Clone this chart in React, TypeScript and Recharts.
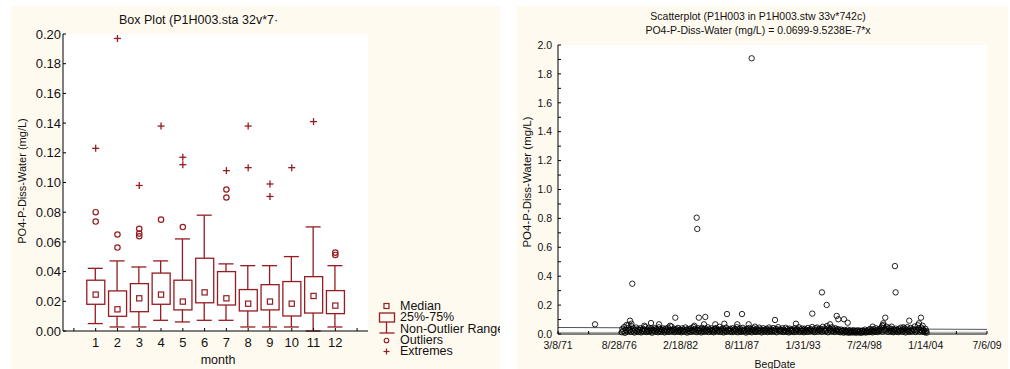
import React from 'react'
import { ComposedChart, Bar, Scatter, XAxis, YAxis, CartesianGrid, ReferenceLine } from 'recharts'

const FONT = '"Liberation Sans", Arial, sans-serif'
const RED = '#961c20'
const CREAM = '#fffaf0'

// box plot, PO4-P by month
const months = [1, 2, 3, 4, 5, 6, 7, 8, 9, 10, 11, 12]
const whiskerLow = [0.005, 0.0027, 0.0027, 0.0072, 0.0061, 0.0072, 0.0072, 0.0027, 0.0027, 0.0027, 0.0, 0.0027]
const q1 = [0.018, 0.0099, 0.013, 0.018, 0.0142, 0.019, 0.0175, 0.0135, 0.0142, 0.0101, 0.0121, 0.0117]
const medians = [0.0245, 0.0146, 0.022, 0.0245, 0.0198, 0.026, 0.022, 0.0184, 0.0198, 0.0184, 0.0236, 0.0171]
const q3 = [0.0342, 0.027, 0.0319, 0.039, 0.0342, 0.049, 0.04, 0.0279, 0.0312, 0.0333, 0.0366, 0.0272]
const whiskerHigh = [0.0422, 0.0472, 0.0431, 0.0472, 0.062, 0.078, 0.0452, 0.044, 0.044, 0.0501, 0.0701, 0.044]
const outlierMonths = [1, 1, 2, 2, 3, 3, 3, 4, 5, 7, 7, 12, 12]
const outlierValues = [0.08, 0.0737, 0.065, 0.0562, 0.0688, 0.0656, 0.0638, 0.075, 0.07, 0.0953, 0.0899, 0.0528, 0.0512]
const extremeMonths = [1, 2, 3, 4, 5, 5, 7, 8, 8, 9, 9, 10, 11]
const extremeValues = [0.123, 0.197, 0.098, 0.138, 0.117, 0.112, 0.108, 0.138, 0.11, 0.099, 0.0906, 0.11, 0.141]
const monthTicks = [0, 1, 2, 3, 4, 5, 6, 7, 8, 9, 10, 11, 12, 13]
const concTicks = [0, 0.02, 0.04, 0.06, 0.08, 0.1, 0.12, 0.14, 0.16, 0.18, 0.2]
const legendRows = ['Median', '25%-75%', 'Non-Outlier Range', 'Outliers', 'Extremes']

// scatterplot, BegDate as spreadsheet day serials
const dateMinorTicks = [26000, 27000, 28000, 29000, 30000, 31000, 32000, 33000, 34000, 35000, 36000, 37000, 38000, 39000, 40000]
const dateTicks = [26000, 28000, 30000, 32000, 34000, 36000, 38000, 40000]
const dateTickLabels = ['3/8/71', '8/28/76', '2/18/82', '8/11/87', '1/31/93', '7/24/98', '1/14/04', '7/6/09']
const levelTicks = [0, 0.1, 0.2, 0.3, 0.4, 0.5, 0.6, 0.7, 0.8, 0.9, 1, 1.1, 1.2, 1.3, 1.4, 1.5, 1.6, 1.7, 1.8, 1.9, 2]
const fitLine = [{ x: 26000, y: 0.0451 }, { x: 40000, y: 0.0318 }]
const lowLine = [{ x: 26000, y: 0.011 }, { x: 40000, y: 0.012 }]

const peakDates = [27207, 28350, 28425, 28817, 29035, 29296, 29655, 29828, 30448, 30525, 30545, 30596, 30764, 30806, 31133, 31427, 31515, 31851, 32005, 32223, 32320, 32428, 33081, 33766, 34298, 34614, 34768, 34876, 35094, 35148, 35333, 35454, 36269, 36582, 36615, 36680, 36889, 36996, 37018, 37268, 37463, 37780, 37845, 28300, 28395]
const peakValues = [0.067, 0.092, 0.348, 0.057, 0.076, 0.067, 0.057, 0.113, 0.057, 0.805, 0.727, 0.113, 0.067, 0.118, 0.067, 0.071, 0.138, 0.067, 0.138, 0.067, 1.908, 0.051, 0.097, 0.071, 0.141, 0.288, 0.201, 0.067, 0.125, 0.102, 0.102, 0.078, 0.051, 0.057, 0.074, 0.113, 0.051, 0.47, 0.288, 0.046, 0.092, 0.074, 0.113, 0.062, 0.071]

const bandDates = [
  28080, 28102, 28131, 28160, 28185, 28214, 28236, 28270, 28298, 28325,
  28352, 28380, 28401, 28440, 28466, 28495, 28520, 28551, 28580, 28604,
  28633, 28660, 28689, 28712, 28745, 28771, 28800, 28828, 28850, 28884,
  28910, 28938, 28961, 28990, 29020, 29047, 29070, 29101, 29128, 29155,
  29182, 29210, 29236, 29262, 29291, 29318, 29345, 29372, 29400, 29428,
  29455, 29480, 29509, 29535, 29562, 29590, 29618, 29645, 29672, 29700,
  29728, 29755, 29782, 29808, 29835, 29862, 29890, 29916, 29944, 29970,
  29998, 30025, 30052, 30080, 30106, 30133, 30160, 30188, 30214, 30241,
  30268, 30295, 30322, 30350, 30376, 30402, 30430, 30457, 30484, 30512,
  30540, 30566, 30593, 30620, 30648, 30675, 30702, 30728, 30756, 30782,
  30810, 30837, 30864, 30890, 30918, 30945, 30972, 31000, 31026, 31053,
  31080, 31108, 31134, 31160, 31188, 31215, 31242, 31270, 31296, 31323,
  31350, 31378, 31404, 31431, 31458, 31486, 31512, 31540, 31566, 31594,
  31620, 31648, 31675, 31702, 31728, 31756, 31783, 31810, 31836, 31864,
  31890, 31918, 31945, 31972, 31998, 32026, 32052, 32080, 32106, 32134,
  32160, 32188, 32214, 32242, 32268, 32296, 32322, 32350, 32376, 32404,
  32430, 32458, 32484, 32512, 32538, 32566, 32592, 32620, 32646, 32674,
  32700, 32728, 32754, 32782, 32808, 32836, 32862, 32890, 32916, 32944,
  32970, 32998, 33024, 33052, 33078, 33106, 33132, 33160, 33186, 33214,
  33240, 33268, 33294, 33322, 33348, 33376, 33402, 33430, 33456, 33484,
  33510, 33538, 33564, 33592, 33618, 33646, 33672, 33700, 33726, 33754,
  33780, 33808, 33834, 33862, 33888, 33916, 33942, 33970, 33996, 34024,
  34050, 34078, 34104, 34132, 34158, 34186, 34212, 34240, 34266, 34294,
  34320, 34348, 34374, 34402, 34428, 34456, 34482, 34510, 34536, 34564,
  34590, 34618, 34644, 34672, 34698, 34726, 34752, 34780, 34806, 34834,
  34860, 34888, 34914, 34942, 34968, 34996, 35022, 35050, 35076, 35104,
  35130, 35158, 35184, 35212, 35238, 35266, 35292, 35320, 35346, 35374,
  35400, 35428, 35454, 35482, 35508, 35536, 35562, 35590, 35616, 35644,
  35670, 35698, 35724, 35752, 35778, 35806, 35832, 35860, 35886, 35914,
  35940, 35968, 35994, 36022, 36048, 36076, 36102, 36130, 36156, 36184,
  36210, 36238, 36264, 36292, 36318, 36346, 36372, 36400, 36426, 36454,
  36480, 36508, 36534, 36562, 36588, 36616, 36642, 36670, 36696, 36724,
  36750, 36778, 36804, 36832, 36858, 36886, 36912, 36940, 36966, 36994,
  37020, 37048, 37074, 37102, 37128, 37156, 37182, 37210, 37236, 37264,
  37290, 37318, 37344, 37372, 37398, 37426, 37452, 37480, 37506, 37534,
  37560, 37588, 37614, 37642, 37668, 37696, 37722, 37750, 37776, 37804,
  37830, 37858, 37884, 37912, 37938, 37966, 37992, 38018, 38030, 37900,
]
const bandValues = [
  0.012, 0.035, 0.021, 0.048, 0.008, 0.028, 0.062, 0.017, 0.041, 0.024,
  0.031, 0.015, 0.054, 0.022, 0.037, 0.010, 0.026, 0.045, 0.019, 0.033,
  0.014, 0.029, 0.040, 0.011, 0.024, 0.036, 0.018, 0.027, 0.049, 0.013,
  0.032, 0.020, 0.043, 0.016, 0.025, 0.038, 0.009, 0.030, 0.022, 0.041,
  0.017, 0.034, 0.026, 0.012, 0.046, 0.021, 0.033, 0.015, 0.028, 0.039,
  0.023, 0.011, 0.036, 0.027, 0.019, 0.044, 0.014, 0.031, 0.024, 0.052,
  0.018, 0.029, 0.037, 0.013, 0.025, 0.034, 0.020, 0.042, 0.016, 0.030,
  0.026, 0.012, 0.039, 0.022, 0.031, 0.017, 0.045, 0.028, 0.010, 0.035,
  0.021, 0.033, 0.015, 0.041, 0.027, 0.019, 0.048, 0.024, 0.036, 0.013,
  0.029, 0.040, 0.018, 0.025, 0.034, 0.011, 0.043, 0.022, 0.031, 0.016,
  0.037, 0.020, 0.028, 0.046, 0.014, 0.032, 0.024, 0.039, 0.017, 0.027,
  0.012, 0.035, 0.022, 0.041, 0.030, 0.018, 0.026, 0.050, 0.015, 0.033,
  0.024, 0.038, 0.011, 0.029, 0.021, 0.044, 0.016, 0.032, 0.027, 0.019,
  0.036, 0.023, 0.013, 0.040, 0.028, 0.017, 0.034, 0.025, 0.047, 0.012,
  0.030, 0.021, 0.038, 0.015, 0.026, 0.043, 0.019, 0.031, 0.024, 0.010,
  0.035, 0.027, 0.016, 0.042, 0.022, 0.033, 0.012, 0.029, 0.039, 0.020,
  0.025, 0.014, 0.037, 0.028, 0.018, 0.044, 0.023, 0.032, 0.011, 0.026,
  0.040, 0.017, 0.030, 0.022, 0.036, 0.013, 0.027, 0.045, 0.020, 0.033,
  0.015, 0.028, 0.041, 0.019, 0.024, 0.035, 0.012, 0.030, 0.047, 0.022,
  0.031, 0.018, 0.026, 0.039, 0.014, 0.029, 0.021, 0.043, 0.016, 0.034,
  0.023, 0.011, 0.037, 0.027, 0.019, 0.032, 0.024, 0.013, 0.040, 0.028,
  0.017, 0.033, 0.025, 0.046, 0.014, 0.030, 0.021, 0.038, 0.026, 0.012,
  0.036, 0.022, 0.029, 0.015, 0.042, 0.027, 0.018, 0.034, 0.024, 0.048,
  0.020, 0.031, 0.013, 0.039, 0.026, 0.045, 0.017, 0.028, 0.036, 0.022,
  0.033, 0.016, 0.050, 0.024, 0.038, 0.019, 0.030, 0.055, 0.012, 0.041,
  0.027, 0.035, 0.018, 0.046, 0.023, 0.032, 0.014, 0.040, 0.029, 0.021,
  0.034, 0.016, 0.026, 0.012, 0.031, 0.019, 0.024, 0.009, 0.028, 0.015,
  0.022, 0.011, 0.030, 0.017, 0.008, 0.025, 0.014, 0.020, 0.010, 0.027,
  0.013, 0.021, 0.009, 0.018, 0.026, 0.011, 0.016, 0.023, 0.008, 0.019,
  0.024, 0.012, 0.017, 0.030, 0.010, 0.021, 0.015, 0.027, 0.013, 0.035,
  0.018, 0.026, 0.011, 0.033, 0.022, 0.016, 0.040, 0.025, 0.014, 0.031,
  0.020, 0.036, 0.027, 0.045, 0.017, 0.062, 0.029, 0.038, 0.023, 0.050,
  0.032, 0.015, 0.041, 0.026, 0.019, 0.035, 0.022, 0.012, 0.030, 0.024,
  0.037, 0.018, 0.028, 0.013, 0.033, 0.021, 0.044, 0.026, 0.016, 0.034,
  0.023, 0.039, 0.011, 0.029, 0.047, 0.020, 0.031, 0.015, 0.042, 0.025,
  0.018, 0.035, 0.027, 0.052, 0.014, 0.030, 0.022, 0.060, 0.038, 0.016,
  0.028, 0.044, 0.019, 0.033, 0.024, 0.012, 0.036, 0.021, 0.009, 0.057,
]

const boxData = months.map((m, i) => ({
  month: m,
  whisker: [whiskerLow[i], whiskerHigh[i]],
  box: [q1[i], q3[i]],
  median: medians[i],
}))
const outliers = outlierMonths.map((m, i) => ({ month: m, value: outlierValues[i] }))
const extremes = extremeMonths.map((m, i) => ({ month: m, value: extremeValues[i] }))
const samples = [
  ...bandDates.map((d, i) => ({ date: d, value: bandValues[i] })),
  ...peakDates.map((d, i) => ({ date: d, value: peakValues[i] })),
]

function WhiskerShape(p: any) {
  const top = Math.min(p.y, p.y + p.height)
  const bot = Math.max(p.y, p.y + p.height)
  const cx = p.x + p.width / 2
  return (
    <g stroke={RED} strokeWidth={1.3}>
      <line x1={cx} x2={cx} y1={top} y2={bot} />
      <line x1={p.x} x2={p.x + p.width} y1={top} y2={top} />
      <line x1={p.x} x2={p.x + p.width} y1={bot} y2={bot} />
    </g>
  )
}

function BoxShape(p: any) {
  const top = Math.min(p.y, p.y + p.height)
  return <rect x={p.x} y={top} width={p.width} height={Math.abs(p.height)} fill="#fff" stroke={RED} strokeWidth={1.3} />
}

const MedianShape = (p: any) => <rect x={p.cx - 2.6} y={p.cy - 2.6} width={5.2} height={5.2} fill="#fff" stroke={RED} strokeWidth={1.2} />
const OutlierShape = (p: any) => <circle cx={p.cx} cy={p.cy} r={2.7} fill="none" stroke={RED} strokeWidth={1.2} />
const ExtremeShape = (p: any) => (
  <g stroke={RED} strokeWidth={1.3}>
    <line x1={p.cx - 3.5} x2={p.cx + 3.5} y1={p.cy} y2={p.cy} />
    <line x1={p.cx} x2={p.cx} y1={p.cy - 3.5} y2={p.cy + 3.5} />
  </g>
)
const SampleShape = (p: any) => <circle cx={p.cx} cy={p.cy} r={2.7} fill="none" stroke="#000" strokeWidth={0.85} />

const axisLine = { stroke: '#000' }
const tickLine = { stroke: '#000' }

// legend, positions relative to the box panel
function BoxLegend() {
  const ys = [300, 311, 322.5, 334, 345]
  return (
    <>
      <svg width={24} height={60} style={{ position: 'absolute', left: 367, top: 292 }}>
        <rect x={6} y={5.5} width={5} height={5} fill="none" stroke={RED} strokeWidth={1.2} />
        <rect x={1.5} y={15} width={15} height={9} fill="none" stroke={RED} strokeWidth={1.3} />
        <line x1={8.5} x2={8.5} y1={24} y2={35} stroke={RED} strokeWidth={1.3} />
        <line x1={1.5} x2={16.5} y1={35} y2={35} stroke={RED} strokeWidth={1.3} />
        <circle cx={8.5} cy={42.5} r={2.3} fill="none" stroke={RED} strokeWidth={1.1} />
        <line x1={5.5} x2={11.5} y1={53.5} y2={53.5} stroke={RED} strokeWidth={1.2} />
        <line x1={8.5} x2={8.5} y1={50.5} y2={56.5} stroke={RED} strokeWidth={1.2} />
      </svg>
      {legendRows.map((r, i) => (
        <div key={r} style={{ position: 'absolute', left: 389, top: ys[i] - 6, fontSize: 12.5, lineHeight: '12px', whiteSpace: 'nowrap', color: '#111' }}>{r}</div>
      ))}
    </>
  )
}

function BoxPanel() {
  return (
    <div style={{ position: 'absolute', left: 11, top: 6, width: 489, height: 363, background: CREAM, overflow: 'hidden', fontFamily: FONT }}>
      <div style={{ position: 'absolute', left: 108, top: 7, fontSize: 12.5, lineHeight: '14px', whiteSpace: 'nowrap', color: '#111' }}>Box Plot (P1H003.sta 32v*7·</div>
      <div style={{ position: 'absolute', left: 11, top: 175, width: 0, height: 0 }}>
        <div style={{ position: 'absolute', transform: 'translate(-50%, -50%) rotate(-90deg)', fontSize: 11, whiteSpace: 'nowrap', color: '#111' }}>PO4-P-Diss-Water (mg/L)</div>
      </div>
      <div style={{ position: 'absolute', left: 157, top: 347, width: 100, textAlign: 'center', fontSize: 12.5, lineHeight: '14px', color: '#111' }}>month</div>
      <ComposedChart width={489} height={362} data={boxData} margin={{ top: 28, right: 132, bottom: 0, left: 0 }} style={{ position: 'absolute', left: 0, top: 0 }}>
        <CartesianGrid fill="#fff" horizontal={false} vertical={false} />
        <XAxis xAxisId={0} type="number" dataKey="month" domain={[-0.5, 13.5]} ticks={monthTicks} interval={0} height={37}
          tickFormatter={(v: number) => (v >= 1 && v <= 12 ? String(v) : '')}
          tick={{ fill: '#111', fontSize: 13, fontFamily: FONT }} axisLine={axisLine} tickLine={tickLine} tickSize={-3} tickMargin={10} />
        <XAxis xAxisId="b" type="number" dataKey="month" domain={[-0.5, 13.5]} ticks={monthTicks} hide />
        <XAxis xAxisId="top" orientation="top" type="number" dataKey="month" domain={[-0.5, 13.5]} ticks={monthTicks} interval={0} height={0}
          tick={false} axisLine={axisLine} tickLine={tickLine} tickSize={-3} />
        <YAxis yAxisId={0} type="number" domain={[0, 0.2]} ticks={concTicks} interval={0} width={52}
          tickFormatter={(v: number) => v.toFixed(2)}
          tick={{ fill: '#111', fontSize: 13, fontFamily: FONT }} axisLine={axisLine} tickLine={tickLine} tickSize={-3} tickMargin={5} />
        <YAxis yAxisId="r" orientation="right" type="number" domain={[0, 0.2]} ticks={concTicks} interval={0} width={0}
          tick={false} axisLine={axisLine} tickLine={tickLine} tickSize={-3} />
        <Bar xAxisId={0} dataKey="whisker" barSize={15} shape={<WhiskerShape />} isAnimationActive={false} />
        <Bar xAxisId="b" dataKey="box" barSize={18} shape={<BoxShape />} isAnimationActive={false} />
        <Scatter xAxisId={0} dataKey="median" shape={MedianShape} isAnimationActive={false} />
        <Scatter xAxisId={0} data={outliers} dataKey="value" shape={OutlierShape} isAnimationActive={false} />
        <Scatter xAxisId={0} data={extremes} dataKey="value" shape={ExtremeShape} isAnimationActive={false} />
      </ComposedChart>
      <BoxLegend />
    </div>
  )
}

function ScatterPanel() {
  return (
    <div style={{ position: 'absolute', left: 517, top: 6, width: 491, height: 363, background: CREAM, overflow: 'hidden', fontFamily: FONT }}>
      <div style={{ position: 'absolute', left: 0, top: 3, width: 482, textAlign: 'center', fontSize: 10.5, lineHeight: '14px', color: '#111' }}>
        <div>Scatterplot (P1H003 in P1H003.stw 33v*742c)</div>
        <div>PO4-P-Diss-Water (mg/L) = 0.0699-9.5238E-7*x</div>
      </div>
      <div style={{ position: 'absolute', left: 10, top: 176, width: 0, height: 0 }}>
        <div style={{ position: 'absolute', transform: 'translate(-50%, -50%) rotate(-90deg)', fontSize: 11.5, whiteSpace: 'nowrap', color: '#111' }}>PO4-P-Diss-Water (mg/L)</div>
      </div>
      <div style={{ position: 'absolute', left: 208, top: 353, width: 100, textAlign: 'center', fontSize: 10.5, lineHeight: '10px', color: '#111' }}>BegDate</div>
      <ComposedChart width={491} height={362} margin={{ top: 39, right: 21, bottom: 0, left: 0 }} style={{ position: 'absolute', left: 0, top: 0 }}>
        <CartesianGrid fill="#fff" horizontal={false} vertical={false} />
        <XAxis xAxisId={0} type="number" dataKey="date" domain={[26000, 40000]} ticks={dateMinorTicks} interval={0} height={34}
          tickFormatter={(v: number) => { const k = dateTicks.indexOf(v); return k >= 0 ? dateTickLabels[k] : '' }}
          tick={{ fill: '#111', fontSize: 10.5, fontFamily: FONT }} axisLine={axisLine} tickLine={tickLine} tickSize={-3} tickMargin={11} />
        <XAxis xAxisId="top" orientation="top" type="number" dataKey="date" domain={[26000, 40000]} ticks={dateMinorTicks} interval={0} height={0}
          tick={false} axisLine={axisLine} tickLine={tickLine} tickSize={-3} />
        <YAxis yAxisId={0} type="number" dataKey="value" domain={[0, 2]} ticks={levelTicks} interval={0} width={41}
          tickFormatter={(v: number) => (Math.round(v * 10) % 2 === 0 ? v.toFixed(1) : '')}
          tick={{ fill: '#111', fontSize: 10.5, fontFamily: FONT }} axisLine={axisLine} tickLine={tickLine} tickSize={-3} tickMargin={9} />
        <YAxis yAxisId="r" orientation="right" type="number" domain={[0, 2]} ticks={levelTicks} interval={0} width={0}
          tick={false} axisLine={axisLine} tickLine={tickLine} tickSize={-3} />
        <ReferenceLine segment={lowLine} stroke="#888" strokeWidth={0.8} />
        <ReferenceLine segment={fitLine} stroke="#555" strokeWidth={1} />
        <Scatter data={samples} dataKey="value" shape={SampleShape} isAnimationActive={false} />
      </ComposedChart>
    </div>
  )
}

export default function App() {
  return (
    <div style={{ position: 'absolute', left: 0, top: 0, width: 1010, height: 369, background: '#fff', overflow: 'hidden' }}>
      <BoxPanel />
      <ScatterPanel />
    </div>
  )
}
